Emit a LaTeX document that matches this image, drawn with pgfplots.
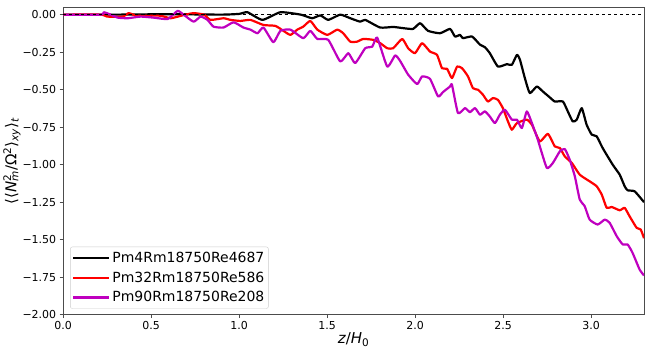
\documentclass[border=0pt]{standalone}
\usepackage{fontspec}
\setmainfont{DejaVu Sans}
\usepackage{pgfplots}
\pgfplotsset{compat=1.18}
\definecolor{mpmag}{rgb}{0.75,0,0.75}

\begin{document}
\begin{tikzpicture}
\begin{axis}[
    scale only axis,
    width=582pt, height=308pt,
    xmin=0, xmax=3.3,
    ymin=-2, ymax=0.049,
    axis line style={black!70, line width=0.8pt},
    tick align=outside,
    tick pos=left,
    major tick length=3.5pt,
    tick style={black!70, line width=0.8pt},
    xtick={0,0.5,1,1.5,2,2.5,3},
    xticklabels={0.0,0.5,1.0,1.5,2.0,2.5,3.0},
    ytick={-2,-1.75,-1.5,-1.25,-1,-0.75,-0.5,-0.25,0},
    yticklabels={−2.00,−1.75,−1.50,−1.25,−1.00,−0.75,−0.50,−0.25,0.00},
    ticklabel style={font=\fontsize{11}{13}\selectfont},
    xlabel={\textit{z}/\textit{H}\textsubscript{0}},
    ylabel={⟨⟨\textit{N}\rlap{\textsuperscript{2}}\textsubscript{\textit{m}}/Ω\textsuperscript{2}⟩\textsubscript{\textit{xy}}⟩\textsubscript{\textit{t}}},
    label style={font=\fontsize{15}{18}\selectfont},
    xlabel style={yshift=4pt},
    ylabel style={yshift=-5pt},
    legend cell align=left,
    legend style={at={(0.012,0.0195)}, anchor=south west,
        font=\fontsize{14}{17}\selectfont,
        draw=black!20, rounded corners=2pt, fill=white, fill opacity=0.8, text opacity=1,
        inner xsep=2pt, inner ysep=3pt, row sep=4pt},
    legend image code/.code={\draw[#1] (0pt,0pt) -- (29pt,0pt); \path (0pt,0pt) -- (36pt,0pt);},
    every axis plot/.append style={line width=2.2pt, line join=round, smooth, tension=0.3},
]
% Pm4Rm18750Re4687
\addplot[black] coordinates {
(0,0) (0.3,0) (0.6,0.003) (0.9,0) (1.0,0.005) (1.047,0.016) (1.132,-0.035)
(1.234,0.016) (1.35,0) (1.414,-0.024) (1.461,-0.005) (1.506,-0.035) (1.574,0)
(1.631,-0.024) (1.688,-0.047) (1.716,-0.035) (1.801,-0.086) (1.875,-0.082)
(1.931,-0.09) (1.988,-0.095) (2.028,-0.057) (2.073,-0.108) (2.141,-0.124)
(2.198,-0.095) (2.226,-0.146) (2.255,-0.135) (2.271,-0.157) (2.323,-0.146)
(2.368,-0.2) (2.396,-0.217) (2.424,-0.257) (2.470,-0.346) (2.521,-0.33)
(2.549,-0.335) (2.578,-0.268) (2.595,-0.30) (2.623,-0.423) (2.651,-0.523)
(2.691,-0.479) (2.725,-0.512) (2.765,-0.552) (2.793,-0.579) (2.839,-0.579)
(2.867,-0.645) (2.895,-0.712) (2.918,-0.70) (2.946,-0.623) (2.974,-0.734)
(3.003,-0.80) (3.031,-0.811) (3.065,-0.889) (3.122,-1.0) (3.162,-1.067)
(3.190,-1.144) (3.207,-1.171) (3.247,-1.178) (3.30,-1.25)
};
\addlegendentry{Pm4Rm18750Re4687}
% Pm32Rm18750Re586
\addplot[red] coordinates {
(0,0) (0.214,0) (0.25,-0.013) (0.34,-0.013) (0.372,0.01) (0.42,-0.007)
(0.55,-0.007) (0.611,-0.024) (0.684,-0.003) (0.741,0.01) (0.80,0) (0.837,-0.035)
(0.911,-0.024) (0.951,-0.035) (1.007,-0.042) (1.064,-0.035) (1.138,-0.069)
(1.206,-0.075) (1.251,-0.108) (1.291,-0.135) (1.330,-0.10) (1.364,-0.08)
(1.404,-0.042) (1.444,-0.10) (1.501,-0.135) (1.557,-0.10) (1.591,-0.124)
(1.631,-0.18) (1.670,-0.18) (1.705,-0.162) (1.761,-0.168) (1.801,-0.19)
(1.841,-0.224) (1.875,-0.224) (1.926,-0.162) (1.960,-0.224) (1.999,-0.257)
(2.039,-0.19) (2.084,-0.246) (2.124,-0.268) (2.152,-0.357) (2.181,-0.361)
(2.209,-0.423) (2.238,-0.346) (2.266,-0.357) (2.300,-0.412) (2.328,-0.49)
(2.357,-0.501) (2.385,-0.534) (2.413,-0.579) (2.442,-0.556) (2.470,-0.568)
(2.498,-0.623) (2.527,-0.712) (2.549,-0.767) (2.578,-0.723) (2.634,-0.70)
(2.663,-0.734) (2.708,-0.845) (2.754,-0.794) (2.793,-0.878) (2.822,-0.889)
(2.850,-0.945) (2.890,-0.989) (2.935,-1.067) (2.991,-1.111) (3.031,-1.144)
(3.060,-1.2) (3.088,-1.288) (3.116,-1.282) (3.162,-1.304) (3.190,-1.288)
(3.218,-1.344) (3.258,-1.421) (3.281,-1.432) (3.30,-1.49)
};
\addlegendentry{Pm32Rm18750Re586}
% Pm90Rm18750Re208
\addplot[mpmag] coordinates {
(0,0) (0.214,0) (0.231,0.016) (0.270,0) (0.310,-0.02) (0.367,-0.024)
(0.440,-0.013) (0.514,-0.02) (0.594,-0.029) (0.650,0.025) (0.684,0)
(0.741,-0.047) (0.781,-0.013) (0.820,-0.035) (0.854,-0.08) (0.911,-0.086)
(0.968,-0.051) (1.024,-0.086) (1.064,-0.1) (1.104,-0.124) (1.138,-0.086)
(1.194,-0.184) (1.234,-0.108) (1.291,-0.1) (1.364,-0.157) (1.404,-0.108)
(1.444,-0.162) (1.506,-0.168) (1.574,-0.312) (1.620,-0.257) (1.659,-0.323)
(1.716,-0.224) (1.756,-0.213) (1.784,-0.153) (1.841,-0.346) (1.886,-0.272)
(1.914,-0.308) (1.960,-0.40) (2.011,-0.463) (2.039,-0.412) (2.084,-0.428)
(2.130,-0.545) (2.158,-0.516) (2.198,-0.479) (2.209,-0.468) (2.243,-0.656)
(2.283,-0.623) (2.311,-0.65) (2.340,-0.623) (2.368,-0.667) (2.396,-0.645)
(2.424,-0.679) (2.453,-0.723) (2.481,-0.667) (2.510,-0.634) (2.549,-0.70)
(2.578,-0.70) (2.606,-0.756) (2.634,-0.645) (2.663,-0.723) (2.697,-0.834)
(2.708,-0.878) (2.748,-1.022) (2.782,-0.989) (2.822,-0.911) (2.850,-0.896)
(2.878,-0.967) (2.907,-1.078) (2.935,-1.233) (2.963,-1.277) (2.991,-1.366)
(3.037,-1.399) (3.077,-1.366) (3.105,-1.388) (3.145,-1.477) (3.179,-1.532)
(3.207,-1.532) (3.235,-1.588) (3.275,-1.699) (3.30,-1.739)
};
\addlegendentry{Pm90Rm18750Re208}
% zero reference line
\addplot[black, dashed, line width=0.8pt, smooth=false, forget plot] coordinates {(0,0) (3.3,0)};
\end{axis}
\path (current axis.south west) ++(-62.3pt,-36.7pt) coordinate (bbA);
\path (current axis.north east) ++(8pt,7.3pt) coordinate (bbB);
\useasboundingbox (bbA) rectangle (bbB);
\end{tikzpicture}
\end{document}
